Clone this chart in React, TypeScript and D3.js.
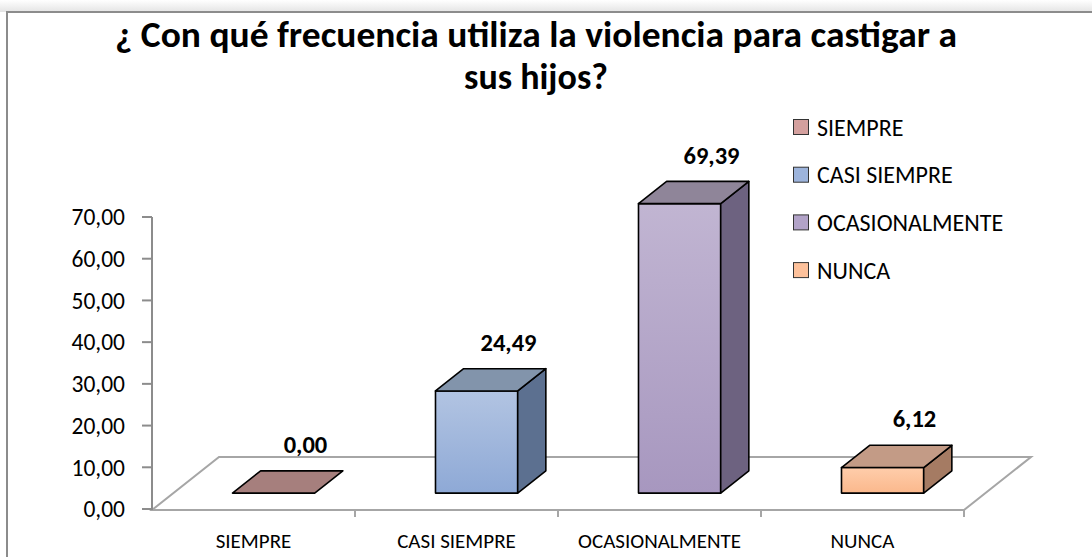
import React, { useEffect } from "react";
import { scaleBand, scaleLinear, format } from "d3";

const categories = ["SIEMPRE", "CASI SIEMPRE", "OCASIONALMENTE", "NUNCA"];
const values = [0, 24.49, 69.39, 6.12];
const yTicks = [0, 10, 20, 30, 40, 50, 60, 70];
const titleLines = ["¿ Con qué frecuencia utiliza la violencia para castigar a", "sus hijos?"];

// face colours per category: front gradient top/bottom, top face, side face, legend swatch
const frontTop = ["#c9a3a1", "#b2c4e2", "#c1b5d2", "#ffcdab"];
const frontBottom = ["#b38986", "#8ea9d6", "#a797bf", "#fab88c"];
const topFace = ["#a67f7d", "#8294ab", "#8f8599", "#c39b86"];
const sideFace = ["#8a6462", "#5c7090", "#6d6280", "#a57b63"];
const swatch = ["#d4a09e", "#9db4dc", "#b2a3c8", "#fdc19b"];

const W = 1092;
const H = 557;
const font = "Calibri, Carlito, Lato, sans-serif";

const styles = {
  svg: { position: "absolute" as const, left: 0, top: 0, background: "#fff" },
};

const fmt = (v: number) => format(".2f")(v).replace(".", ",");

const App = () => {
  useEffect(() => {
    document.body.style.margin = "0";
  }, []);

  const x = scaleBand().domain(categories).range([152, 964]).padding(0);
  const y = scaleLinear().domain([0, 70]).range([509, 217]);

  // floor depth vector (3d look)
  const dx = 67;
  const dy = -53;
  const ox = dx * 0.3;
  const oy = dy * 0.3;
  const bx = dx * 0.42;
  const by = dy * 0.42;

  const band = x.bandwidth();
  const barW = band * 0.405;
  const [x0, x1] = x.range();
  const y0 = y(0);

  const floor = `M${x0},${y0 + 1} L${x1},${y0 + 1} L${x1 + dx},${y0 + 1 + dy} L${x0 + dx},${y0 + 1 + dy} Z`;

  return (
    <svg width={W} height={H} style={styles.svg}>
      <defs>
        {categories.map((c, i) => (
          <linearGradient key={c} id={`front${i}`} x1="0" y1="0" x2="0" y2="1">
            <stop offset="0%" stopColor={frontTop[i]} />
            <stop offset="100%" stopColor={frontBottom[i]} />
          </linearGradient>
        ))}
        <linearGradient id="shade" x1="0" y1="0" x2="0" y2="1">
          <stop offset="0%" stopColor="#ffffff" />
          <stop offset="100%" stopColor="#e4e4e4" />
        </linearGradient>
      </defs>

      <rect x={0} y={0} width={W} height={12} fill="url(#shade)" />
      <rect x={7} y={12} width={W + 20} height={H + 20} fill="#fff" stroke="#8c8c8c" strokeWidth={2} />

      {titleLines.map((t, i) => (
        <text
          key={i}
          x={536}
          y={47 + i * 42}
          textAnchor="middle"
          fontFamily={font}
          fontWeight="bold"
          fontSize={36}
          textLength={i === 0 ? 842 : undefined}
          lengthAdjust="spacingAndGlyphs"
          fill="#000"
        >
          {t}
        </text>
      ))}

      {/* floor */}
      <path d={floor} fill="none" stroke="#a6a6a6" strokeWidth={2} />

      {/* y axis */}
      <line x1={x0} x2={x0} y1={y(70)} y2={y0 + 1} stroke="#8c8c8c" strokeWidth={2} />
      {yTicks.map((t) => (
        <g key={t}>
          <line x1={x0 - 10} x2={x0} y1={y(t)} y2={y(t)} stroke="#8c8c8c" strokeWidth={2} />
          <text x={125} y={y(t)} dy="0.35em" textAnchor="end" fontFamily={font} fontSize={23.5} fill="#000">
            {fmt(t)}
          </text>
        </g>
      ))}

      {/* x axis ticks and labels */}
      {categories.map((c) => (
        <line key={c} x1={x(c)! + band} x2={x(c)! + band} y1={y0 + 1} y2={y0 + 8} stroke="#a6a6a6" strokeWidth={2} />
      ))}
      {categories.map((c) => (
        <text key={c} x={x(c)! + band / 2} y={548} textAnchor="middle" fontFamily={font} fontSize={21} fill="#000">
          {c}
        </text>
      ))}

      {/* bars */}
      {categories.map((c, i) => {
        const xl = x(c)! + (band - barW) / 2 + ox;
        const xr = xl + barW;
        const yt = y(values[i]) + oy;
        const yb = y0 + oy;
        const top = `M${xl},${yt} L${xr},${yt} L${xr + bx},${yt + by} L${xl + bx},${yt + by} Z`;
        const side = `M${xr},${yt} L${xr + bx},${yt + by} L${xr + bx},${yb + by} L${xr},${yb} Z`;
        return (
          <g key={c} stroke="#000" strokeWidth={1.6} strokeLinejoin="round">
            {yb - yt > 0 && <rect x={xl} y={yt} width={barW} height={yb - yt} fill={`url(#front${i})`} />}
            {yb - yt > 0 && <path d={side} fill={sideFace[i]} />}
            <path d={top} fill={topFace[i]} />
          </g>
        );
      })}

      {/* data labels */}
      {categories.map((c, i) => (
        <text
          key={c}
          x={x(c)! + band / 2 + 52}
          y={y(values[i]) - 56}
          textAnchor="middle"
          fontFamily={font}
          fontWeight="bold"
          fontSize={24.5}
          fill="#000"
        >
          {fmt(values[i])}
        </text>
      ))}

      {/* legend */}
      {categories.map((c, i) => (
        <g key={c} transform={`translate(793, ${127 + i * 47.7})`}>
          <rect x={0.5} y={-7.5} width={15} height={15} fill={swatch[i]} stroke="#333" strokeWidth={1} />
          <text x={24} y={0} dy="0.36em" fontFamily={font} fontSize={24} fill="#000">
            {c}
          </text>
        </g>
      ))}
    </svg>
  );
};

export default App;
